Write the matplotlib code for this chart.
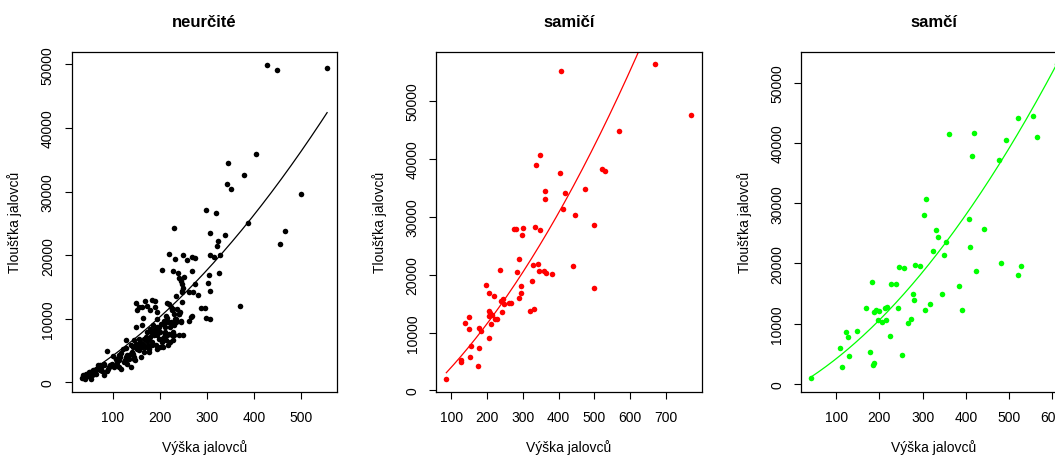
import numpy as np
import matplotlib
matplotlib.use("Agg")
import matplotlib.pyplot as plt

plt.rcParams['font.family'] = ['Liberation Sans', 'DejaVu Sans']

titles = ["neurčité", "samičí", "samčí"]
xlabel = "Výška jalovců"
ylabel = "Tloušťka jalovců"
colors = ["#000000", "#FF0000", "#00FF00"]

# --- neurčité ---
x_neur = [34, 37, 44, 41, 47, 53, 56, 51, 60, 63, 67, 73, 68, 75, 81, 74, 81, 87, 92, 95, 99, 100, 87, 106, 109,
          113, 116, 118, 113, 124, 127, 129, 131, 134, 138, 138, 141, 143, 145, 148, 152, 153, 155, 157, 159, 162,
          164, 166, 167, 169, 172, 173, 174, 177, 178, 179, 180, 181, 184, 186, 187, 189, 191, 193, 194, 196, 198,
          200, 201, 203, 205, 207, 208, 210, 212, 214, 215, 218, 219, 221, 222, 226, 228, 230, 233, 235, 224, 226,
          230, 237, 240, 242, 244, 247, 249,
          150, 152, 155, 162, 169, 173, 179, 184, 189, 189, 194, 164, 194, 215, 213, 208, 224, 234,
          262, 270, 268, 266, 261, 282, 287, 295, 299, 306, 275, 249, 247, 251, 241, 244, 247, 234, 248, 216, 306,
          302, 305, 325, 239, 269, 228, 205,
          219, 249, 306, 328, 316, 269, 257, 275, 233, 229, 299, 320, 306, 339, 324, 321, 455, 465, 371, 387, 500,
          343, 350, 379, 345, 405, 427, 449, 555,
          220, 227, 241, 234, 244, 217, 209, 198, 188, 149, 163, 170, 156, 145, 128, 138, 149, 160, 184, 202, 211,
          230, 241, 227, 195, 121, 114, 107, 82, 58, 49, 64, 78, 89, 103, 110, 128, 135, 142, 131, 117, 146, 177]
y_neur = [680, 1100, 1360, 580, 940, 580, 1100, 1620, 1360, 1730, 2150, 2780, 2670, 2410, 2780, 1890, 1200, 1730,
          2410, 2670, 2930, 4130, 4870, 3720, 3190, 3450, 3980, 4600, 2410, 3190, 3450, 5390, 4240, 3720, 2410, 4500,
          4760, 5550, 3980, 3450, 5290, 5910, 5020, 6330, 3980, 5550, 6070, 6850, 4760, 5550, 6440, 7900, 5910, 5290,
          6850, 8420, 7120, 7900, 6330, 8950, 7380, 7900, 5810, 8680, 7380, 8420, 6850, 5550, 7900, 9210, 6330, 5550,
          7120, 7900, 8680, 6590, 7380, 5810, 7640, 8680, 6330, 7380, 7900, 10780, 9990, 9570, 11820, 11300, 8950,
          11560, 10780, 11040, 9570, 14180, 7380,
          12500, 11300, 11820, 11820, 12820, 11930, 11300, 12970, 12710, 11820, 11040, 10150, 9890, 10100, 10360,
          9630, 9520, 9520,
          14180, 14180, 10410, 10200, 9570, 13710, 11610, 11610, 10150, 9890, 15480, 14800, 14390, 16630, 16430,
          15850, 15480, 13500, 12610, 12450, 14390, 15590, 16950, 17210, 17210, 17470, 17470, 17680,
          20240, 20080, 19980, 19980, 19770, 19770, 19300, 19510, 19350, 24270, 27040, 26680, 23540, 23220, 22230,
          21450, 21710, 23750, 11980, 25000, 29600, 31170, 30390, 32530, 34420, 35990, 49840, 49160, 49370,
          12350, 11560, 10780, 10000, 9470, 9470, 9210, 8690, 8160, 8690, 8950, 7120, 6860, 6590, 6590, 5810, 6070,
          5550, 5810, 6860, 7640, 7380, 7380, 6590, 5290, 5290, 4240, 3720, 2930, 1890, 1620, 1360, 1730, 2150, 2410,
          2780, 3980, 4240, 4500, 2930, 2150, 3720, 4760]

# --- samičí ---
x_sami = [86, 126, 126, 152, 155, 176, 175, 139, 148, 148, 176, 183, 198, 204, 206, 212, 204, 209, 204, 214, 220,
          223, 228, 235, 239, 244, 243, 246, 260, 268, 283, 274, 280, 301, 297, 288, 290, 296, 296, 321, 331, 326,
          328, 333, 347, 342, 344, 360, 364, 380, 336, 349, 361, 362, 404, 407, 411, 417, 441, 446, 474, 499, 498,
          521, 529, 569, 670, 770]
y_sami = [1970, 5330, 4980, 5790, 7640, 7350, 4290, 11630, 12670, 10700, 10820, 10350, 18160, 16890, 9080, 11400,
          13710, 13420, 12840, 12960, 16310, 12260, 12380, 20820, 15440, 15730, 13540, 14860, 15040, 15040, 20470,
          27810, 27810, 27990, 26770, 22670, 16020, 18040, 16890, 13710, 14110, 18970, 21690, 28160, 27760, 21920,
          20590, 20650, 20240, 20130, 38850, 40700, 33020, 34400, 37470, 55160, 31340, 34060, 21450, 30360, 34750,
          28620, 17750, 38280, 37930, 44810, 56310, 47640]

# --- samčí ---
x_samc = [42, 109, 113, 122, 127, 130, 147, 169, 179, 182, 185, 188, 187, 192, 199, 197, 205, 212, 218, 216, 225,
          226, 238, 244, 246, 253, 258, 265, 272, 278, 280, 282, 293, 306, 303, 307, 318, 324, 332, 335, 345, 350,
          353, 362, 385, 390, 408, 409, 418, 415, 423, 441, 477, 481, 492, 520, 521, 527, 556, 564, 610]
y_samc = [930, 5920, 2820, 8630, 7850, 4590, 8800, 12560, 5360, 16940, 3200, 3480, 11900, 12230, 12120, 10570,
          10290, 12560, 12730, 10620, 7910, 16660, 16660, 12620, 19430, 4810, 19260, 10180, 10790, 14940, 13940,
          19700, 19650, 12280, 28010, 30670, 13230, 22090, 25570, 24410, 14890, 21360, 23520, 41460, 16270, 12230,
          27350, 22810, 41580, 37870, 18820, 25740, 37200, 20040, 40520, 44070, 18150, 19540, 44510, 40970, 53040]

# fitted curve coefficients (c2, c1, c0)
fit_neur = [0.06545, 41.18, -594]
fit_sami = [0.068, 54.9, -2153]
fit_samc = [0.07666, 41.21, -676]

xs = [x_neur, x_sami, x_samc]
ys = [y_neur, y_sami, y_samc]
fits = [fit_neur, fit_sami, fit_samc]
xticks = [[100, 200, 300, 400, 500], [100, 200, 300, 400, 500, 600, 700], [100, 200, 300, 400, 500, 600]]
yticks = [0, 10000, 20000, 30000, 40000, 50000]
xlims = [(12.5, 576), (58, 800), (18.5, 633)]
ylims = [(-1460, 52040), (-173, 58515), (-1229, 55150)]

W, H = 1055, 456
fig = plt.figure(figsize=(W / 100, H / 100), dpi=100)
lefts = [71.5, 436.3, 801.0]
top_px, bot_px, wid_px = 52.5, 392.5, 265.5

for i in range(3):
    ax = fig.add_axes([lefts[i] / W, 1 - bot_px / H, wid_px / W, (bot_px - top_px) / H])
    x = np.array(xs[i]); y = np.array(ys[i])
    ax.plot(x, y, linestyle='none', marker='o', markersize=4.0, markeredgewidth=0,
            color=colors[i], clip_on=False, zorder=3)
    xx = np.linspace(x.min(), x.max(), 300)
    ax.plot(xx, np.polyval(fits[i], xx), color=colors[i], linewidth=0.9, zorder=2)
    ax.set_xlim(*xlims[i]); ax.set_ylim(*ylims[i])
    ax.set_xticks(xticks[i]); ax.set_yticks(yticks)
    ax.set_xticklabels([str(v) for v in xticks[i]])
    ax.set_yticklabels([str(v) for v in yticks])
    ax.tick_params(length=5, width=0.8, labelsize=10)
    ax.tick_params(axis='x', pad=8)
    ax.tick_params(axis='y', pad=7)
    for lab in ax.get_yticklabels():
        lab.set_rotation(90); lab.set_va('center'); lab.set_ha('right')
    for s in ax.spines.values():
        s.set_linewidth(0.9)
    ax.set_xlabel(xlabel, fontsize=10)
    ax.xaxis.set_label_coords(0.5, -55.5 / (bot_px - top_px))
    ax.xaxis.label.set_va('center')
    ax.set_ylabel(ylabel, fontsize=10)
    ax.yaxis.set_label_coords(-56.5 / wid_px, 0.5)
    ax.yaxis.label.set_va('center')
    ax.text(0.5, 1 + 30.5 / (bot_px - top_px), titles[i], transform=ax.transAxes,
            ha='center', va='center', fontsize=12, fontweight='bold')

fig.savefig("out.png", dpi=100)
